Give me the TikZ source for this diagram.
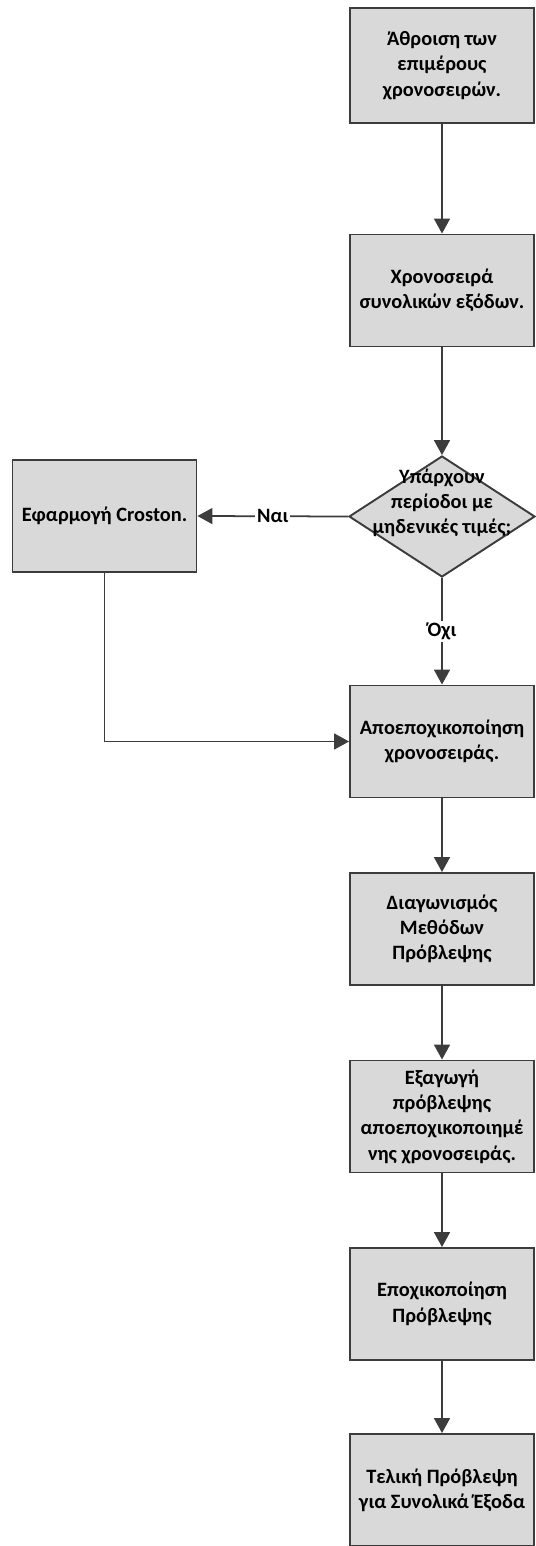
\documentclass[tikz,border=0pt]{standalone}
\usepackage{fontspec}
\setmainfont{Carlito}
\usetikzlibrary{arrows.meta,positioning,shapes.geometric}
\definecolor{boxgray}{HTML}{D9D9D9}
\definecolor{linegray}{HTML}{3C3C3C}
\tikzstyle{process} = [rectangle, draw=linegray, line width=1.1pt, fill=boxgray, minimum width=3.68cm, minimum height=2.24cm, align=center, inner sep=2pt, font=\bfseries\fontsize{11.6}{14.4}\selectfont]
\tikzstyle{decision} = [diamond, draw=linegray, line width=1.1pt, fill=boxgray, minimum width=3.72cm, minimum height=2.42cm, inner sep=0pt]
\tikzstyle{flow} = [draw=linegray, line width=1pt, -{Triangle[length=3mm,width=3.2mm]}]
\tikzstyle{answer} = [fill=white, inner sep=1pt, font=\bfseries\fontsize{11.6}{14.4}\selectfont]

\begin{document}
\begin{tikzpicture}

\useasboundingbox (0,0) rectangle (10.7,-30.92);

% main column
\node[process, minimum height=2.3cm] (sum) at (8.84,-1.31) {Άθροιση των\\επιμέρους\\χρονοσειρών.};
\node[process] (total) at (8.84,-5.81) {Χρονοσειρά\\συνολικών εξόδων.};
\node[decision] (zeros) at (8.84,-10.33) {};
\node[align=center, font=\bfseries\fontsize{11.6}{14.4}\selectfont] (zerostext) at (8.84,-10.06) {Υπάρχουν\\περίοδοι με\\μηδενικές τιμές;};
\node[process] (croston) at (2.09,-10.32) {Εφαρμογή Croston.};
\node[process] (deseason) at (8.84,-14.83) {Αποεποχικοποίηση\\χρονοσειράς.};
\node[process] (compare) at (8.84,-18.58) {Διαγωνισμός\\Μεθόδων\\Πρόβλεψης};
\node[process] (extract) at (8.84,-22.33) {Εξαγωγή\\πρόβλεψης\\αποεποχικοποιημέ\\νης χρονοσειράς.};
\node[process] (reseason) at (8.84,-26.08) {Εποχικοποίηση\\Πρόβλεψης};
\node[process] (final) at (8.84,-29.8) {Τελική Πρόβλεψη\\για Συνολικά Έξοδα};

% connectors
\draw[flow] (sum) -- (total);
\draw[flow] (total) -- (zeros);
\draw[flow] (zeros.west) -- node[answer] (yes) {Ναι} (croston.east);
\draw[flow] (zeros.south) -- node[answer] (no) {Όχι} (deseason.north);
\draw[flow] (croston.south) |- (deseason.west);
\draw[flow] (deseason) -- (compare);
\draw[flow] (compare) -- (extract);
\draw[flow] (extract) -- (reseason);
\draw[flow] (reseason) -- (final);

\end{tikzpicture}
\end{document}
